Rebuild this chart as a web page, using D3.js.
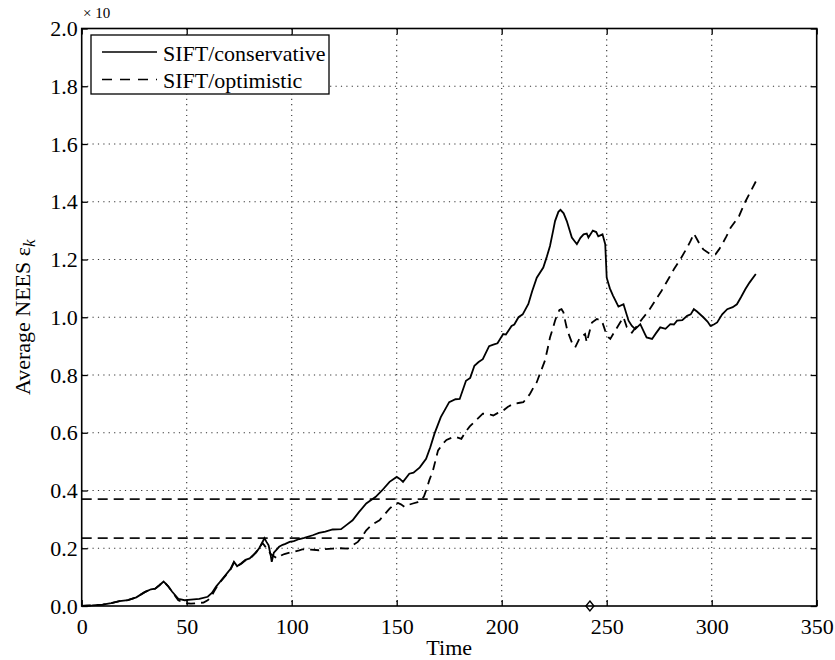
<!DOCTYPE html>
<html>
<head>
<meta charset="utf-8">
<script src="https://cdn.jsdelivr.net/npm/d3@7/dist/d3.min.js"></script>
<style>
  html, body { margin: 0; padding: 0; background: #fff; }
  svg text { font-family: "Liberation Serif", "Times New Roman", serif; fill: #000; }
</style>
</head>
<body>
<svg id="chart" width="835" height="660"></svg>
<script>
// Average NEES over time for the two SIFT variants
const conservativeTime = [0,5,10,14,18,22,26,30,33,35,37,39,41,43,46,49,52,56,60,62,64,66,68.5,71,72.5,74,76,78,80,81,83,84.5,86,87,88,89,90,90.5,91.5,92.5,94,95.7,97,99,101,103.6,106,110,113,116,119.5,123.5,126,129,132,135.5,138,140,143,146.6,150,151.5,153,156,158,161,164,166,168,171,173,175,178,180,183,185,187,189,191,194,196,198,200.7,202,204.7,206,208,210,212.7,214.5,216.7,219.8,221.5,223,224.5,225.4,227,228,229.5,231,233.4,235.8,237.5,239,240.5,241.3,243.4,245,246,248,249.3,250,251.5,253,255.6,258,260.4,262,263.6,266,268,269,271.6,273.5,275.5,278,280.3,282,283.5,286,288.3,290,291.5,293,296,298,299.4,301,302.6,305,307.4,310,312,314,316,318,321];
const conservativeNees = [0,0.002,0.005,0.01,0.017,0.02,0.03,0.048,0.058,0.06,0.072,0.085,0.07,0.05,0.025,0.02,0.022,0.025,0.032,0.045,0.067,0.085,0.107,0.13,0.153,0.138,0.148,0.16,0.165,0.172,0.185,0.2,0.22,0.235,0.222,0.21,0.175,0.153,0.185,0.193,0.205,0.212,0.215,0.222,0.225,0.232,0.236,0.245,0.253,0.258,0.265,0.266,0.28,0.297,0.325,0.355,0.368,0.378,0.4,0.43,0.447,0.44,0.43,0.458,0.462,0.48,0.51,0.55,0.597,0.654,0.68,0.706,0.716,0.717,0.78,0.79,0.832,0.845,0.855,0.9,0.905,0.91,0.942,0.94,0.97,0.975,1.0,1.01,1.046,1.09,1.137,1.172,1.21,1.247,1.3,1.333,1.365,1.372,1.36,1.333,1.276,1.253,1.275,1.287,1.29,1.276,1.3,1.295,1.28,1.287,1.253,1.137,1.1,1.075,1.037,1.045,0.988,0.97,0.959,0.976,0.945,0.93,0.925,0.945,0.965,0.96,0.976,0.975,0.988,0.99,1.005,1.01,1.028,1.02,1.0,0.985,0.97,0.975,0.982,1.01,1.028,1.035,1.045,1.07,1.097,1.12,1.15];

const optimisticTime = [0,5,10,14,18,22,26,30,33,35,37,39,41,43,46,49,52,55,58,60,61.5,63,65,68.5,71,72.5,74,76,78,80,82,84,85,86,87,88.5,90,91.5,93,95,96.5,99,101,103.6,105,109,113,116,119.5,123,126.7,129,131.5,133.5,135.5,138,141.8,144,146.6,148.5,150.6,152,153.8,155.5,157.7,160,161.7,163,164,165.5,167.3,168.5,169.7,172,173.7,176.8,178.4,180.8,182.5,184.8,188,191,193.5,196,198,200.7,203,205.5,208,210.3,212,213.5,215,216.7,218.5,220.6,222,223,224.3,225.4,226.5,227.5,228.5,229.4,230.3,231.3,233.4,235,237.3,239.7,240.5,241.8,243,245.3,247.7,249.3,250.9,251.7,254,256.4,258,259.6,262,265,267.5,270,272,274,276,278,280,282,285,288.3,290,291.5,293,294.5,296,299.4,301.8,303.5,305,307,309,311,313,314.5,316,318.5,321];
const optimisticNees = [0,0.002,0.005,0.01,0.017,0.02,0.03,0.048,0.058,0.06,0.072,0.085,0.07,0.05,0.02,0.01,0.008,0.01,0.012,0.02,0.03,0.05,0.075,0.105,0.128,0.15,0.138,0.146,0.158,0.163,0.178,0.195,0.205,0.219,0.21,0.195,0.18,0.172,0.165,0.175,0.18,0.185,0.188,0.193,0.196,0.195,0.193,0.197,0.199,0.2,0.199,0.21,0.222,0.24,0.262,0.28,0.297,0.315,0.337,0.35,0.357,0.352,0.343,0.35,0.355,0.36,0.366,0.38,0.4,0.435,0.47,0.505,0.539,0.562,0.575,0.585,0.585,0.579,0.6,0.622,0.645,0.666,0.665,0.66,0.668,0.677,0.69,0.7,0.703,0.706,0.72,0.735,0.755,0.775,0.81,0.85,0.895,0.93,0.96,0.988,1.01,1.025,1.028,1.017,0.985,0.953,0.913,0.896,0.93,0.942,0.913,0.95,0.982,0.994,0.988,0.953,0.93,0.925,0.953,0.982,1.0,0.965,0.947,0.976,1.0,1.022,1.045,1.068,1.09,1.115,1.14,1.166,1.2,1.241,1.265,1.29,1.27,1.25,1.235,1.218,1.218,1.235,1.253,1.28,1.31,1.33,1.35,1.375,1.4,1.435,1.47];

// Consistency bounds and marked instant
const boundLevels = [0.37, 0.235];
const markerTime = [242];

const xTicks = [0, 50, 100, 150, 200, 250, 300, 350];
const yTicks = [0, 0.2, 0.4, 0.6, 0.8, 1.0, 1.2, 1.4, 1.6, 1.8, 2.0];
const seriesNames = ["SIFT/conservative", "SIFT/optimistic"];

const svg = d3.select("#chart");
const plotLeft = 81.7, plotRight = 816.7, plotTop = 28.5, plotBottom = 606;

const x = d3.scaleLinear().domain([0, 350]).range([plotLeft, plotRight]);
const y = d3.scaleLinear().domain([0, 2.0]).range([plotBottom, plotTop]);

// grid
const grid = svg.append("g").attr("stroke", "#333").attr("stroke-width", 1.1)
  .attr("stroke-dasharray", "1.2,4.2");
grid.selectAll("line.vx").data(xTicks.slice(1, -1)).join("line")
  .attr("x1", d => x(d)).attr("x2", d => x(d)).attr("y1", plotTop).attr("y2", plotBottom);
grid.selectAll("line.hy").data(yTicks.slice(1, -1)).join("line")
  .attr("x1", plotLeft).attr("x2", plotRight).attr("y1", d => y(d)).attr("y2", d => y(d));

// horizontal bounds
svg.append("g").selectAll("line").data(boundLevels).join("line")
  .attr("x1", plotLeft).attr("x2", plotRight)
  .attr("y1", d => y(d)).attr("y2", d => y(d))
  .attr("stroke", "#111").attr("stroke-width", 1.9).attr("stroke-dasharray", "10,6");

// curves
const line = d3.line().x(d => x(d[0])).y(d => y(d[1]));
const consData = conservativeTime.map((t, i) => [t, conservativeNees[i]]);
const optData = optimisticTime.map((t, i) => [t, optimisticNees[i]]);

svg.append("path").datum(optData).attr("d", line)
  .attr("fill", "none").attr("stroke", "#000").attr("stroke-width", 1.8)
  .attr("stroke-dasharray", "9,6");
svg.append("path").datum(consData).attr("d", line)
  .attr("fill", "none").attr("stroke", "#000").attr("stroke-width", 1.8);

// diamond marker
svg.append("g").selectAll("path").data(markerTime).join("path")
  .attr("transform", d => `translate(${x(d)},${y(0)})`)
  .attr("d", "M0,-5L4,0L0,5L-4,0Z")
  .attr("fill", "#fff").attr("stroke", "#000").attr("stroke-width", 1.4);

// axes
const fmtY = d3.format(".1f");
const axB = svg.append("g").attr("transform", `translate(0,${plotBottom})`)
  .call(d3.axisBottom(x).tickValues(xTicks).tickSize(-6).tickSizeOuter(0).tickPadding(12));
const axT = svg.append("g").attr("transform", `translate(0,${plotTop})`)
  .call(d3.axisTop(x).tickValues(xTicks).tickSize(-6).tickSizeOuter(0).tickFormat(""));
const axL = svg.append("g").attr("transform", `translate(${plotLeft},0)`)
  .call(d3.axisLeft(y).tickValues(yTicks).tickSize(-6).tickSizeOuter(0).tickPadding(4).tickFormat(fmtY));
const axR = svg.append("g").attr("transform", `translate(${plotRight},0)`)
  .call(d3.axisRight(y).tickValues(yTicks).tickSize(-6).tickSizeOuter(0).tickFormat(""));
[axB, axT, axL, axR].forEach(a => {
  a.select(".domain").remove();
  a.selectAll(".tick line").attr("stroke", "#000").attr("stroke-width", 1.3);
  a.selectAll("text").attr("font-family", "Liberation Serif").attr("font-size", 22).attr("fill", "#000");
});

// frame
svg.append("rect").attr("x", plotLeft).attr("y", plotTop)
  .attr("width", plotRight - plotLeft).attr("height", plotBottom - plotTop)
  .attr("fill", "none").attr("stroke", "#000").attr("stroke-width", 1.6);

// exponent note
svg.append("text").attr("x", 83).attr("y", 18).attr("font-size", 15).text("× 10");

// axis titles
svg.append("text").attr("x", (plotLeft + plotRight) / 2).attr("y", 655)
  .attr("text-anchor", "middle").attr("font-size", 22).text("Time");
const yl = svg.append("text")
  .attr("transform", `translate(30,${(plotTop + plotBottom) / 2}) rotate(-90)`)
  .attr("text-anchor", "middle").attr("font-size", 22);
yl.append("tspan").text("Average NEES ε");
yl.append("tspan").attr("font-style", "italic").attr("font-size", 17).attr("dy", 5).text("k");

// legend
const lg = svg.append("g");
lg.append("rect").attr("x", 91).attr("y", 35).attr("width", 238).attr("height", 59)
  .attr("fill", "#fff").attr("stroke", "#000").attr("stroke-width", 1.3);
const rows = lg.selectAll("g.row").data(seriesNames).join("g")
  .attr("transform", (d, i) => `translate(0,${i * 27.6})`);
rows.append("line").attr("x1", 102).attr("x2", 157).attr("y1", 52).attr("y2", 52)
  .attr("stroke", "#000").attr("stroke-width", 1.5)
  .attr("stroke-dasharray", (d, i) => i === 0 ? null : "10,8");
rows.append("text").attr("x", 163).attr("y", 60.5).attr("font-size", 22).text(d => d);
</script>
</body>
</html>
